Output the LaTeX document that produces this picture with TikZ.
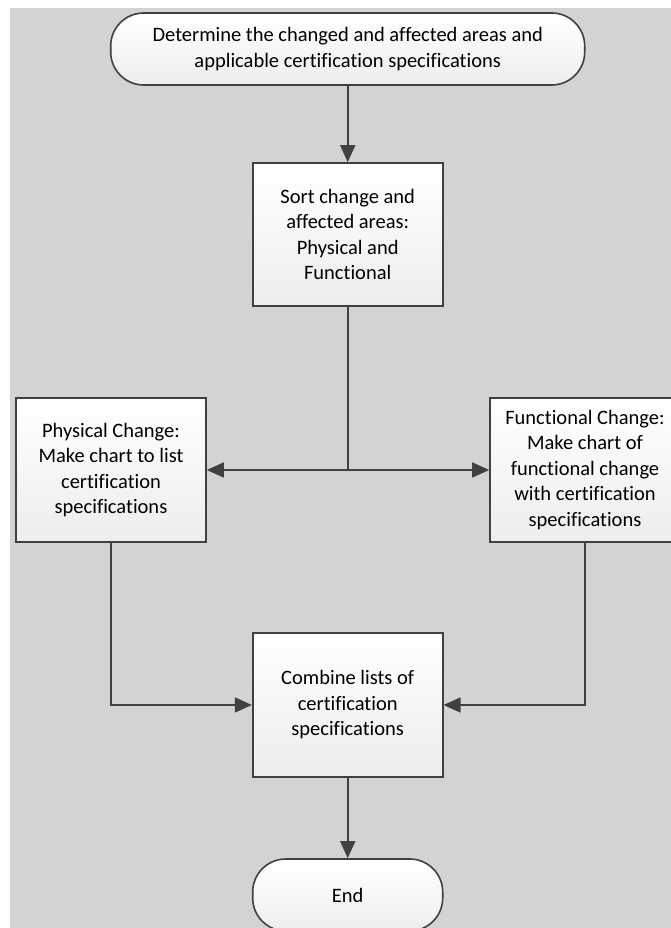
\documentclass[tikz,border=0pt]{standalone}
\usepackage{fontspec}
\setmainfont{Carlito}[Ligatures=NoCommon]
\usetikzlibrary{arrows.meta}

\definecolor{bggray}{RGB}{211,211,211}
\definecolor{linegray}{RGB}{64,64,64}

\tikzset{
	box/.style={draw=linegray, line width=1.6pt, top color=white, bottom color=black!7,
		minimum width=190pt, minimum height=144pt, align=center, inner sep=0pt,
		font=\fontsize{20.5}{25.5}\selectfont},
	term/.style={box, rounded corners=33pt, minimum height=72pt},
	arr/.style={draw=linegray, line width=1.6pt, -{Triangle[length=17pt,width=15pt]}},
	conn/.style={draw=linegray, line width=1.6pt}
}

\begin{document}
\begin{tikzpicture} [x=1pt, y=-1pt]
		
		\useasboundingbox (0,0) rectangle (671,928);
		\clip (0,0) rectangle (671,928);
		\fill[bggray] (10,8) rectangle (671,928);
		
		\coordinate (split) at (347.7,470);
		
		\node[term, minimum width=474pt] (start) at (347.7,49) {Determine the changed and affected areas and\\applicable certification specifications};
		\node[box, minimum height=143pt] (sort) at (347.7,234.5) {Sort change and\\affected areas:\\Physical and\\Functional};
		\node[box] (phys) at (111,470) {Physical Change:\\Make chart to list\\certification\\specifications};
		\node[box] (func) at (585,470) {Functional Change:\\Make chart of\\functional change\\with certification\\specifications};
		\node[box] (comb) at (347.7,705) {Combine lists of\\certification\\specifications};
		\node[term] (stop) at (347.7,895) {End};
		
		\draw[arr] (start) -- (sort);
		\draw[conn] (sort) -- (split);
		\draw[arr] (split) -- (phys);
		\draw[arr] (split) -- (func);
		\draw[arr] (phys.south) |- (comb.west);
		\draw[arr] (func.south) |- (comb.east);
		\draw[arr] (comb) -- (stop);
	
	\end{tikzpicture}
\end{document}
